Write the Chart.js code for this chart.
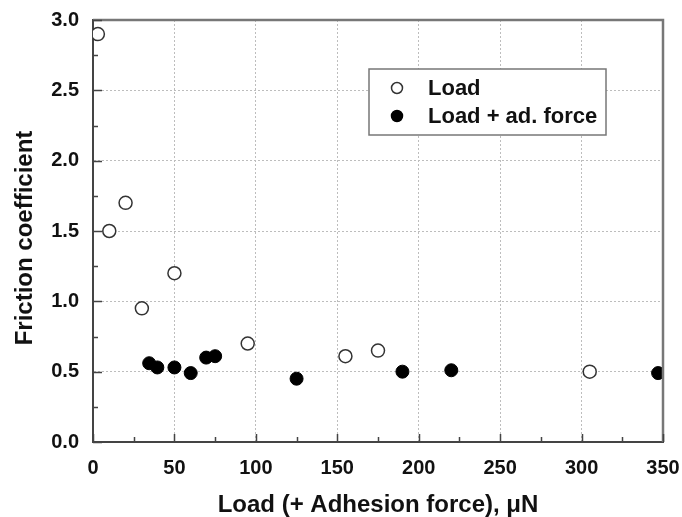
<!DOCTYPE html>
<html>
<head>
<meta charset="utf-8">
<script src="https://cdn.jsdelivr.net/npm/chart.js@4/dist/chart.umd.min.js"></script>
<style>
  html, body { margin: 0; padding: 0; background: #fff; }
  #wrap { width: 682px; height: 517px; }
</style>
</head>
<body>
<div id="wrap"><canvas id="c" width="682" height="517"></canvas></div>
<script>
// ---- data ----
const loadX = [3, 10, 20, 30, 50, 95, 155, 175, 305];
const loadY = [2.90, 1.50, 1.70, 0.95, 1.20, 0.70, 0.61, 0.65, 0.50];
const adhX = [34.5, 39.5, 50, 60, 69.5, 75, 125, 190, 220, 347];
const adhY = [0.56, 0.53, 0.53, 0.49, 0.60, 0.61, 0.45, 0.50, 0.51, 0.49];
const seriesNames = ["Load", "Load + ad. force"];
const xTitle = "Load (+ Adhesion force), \u03BCN";
const yTitle = "Friction coefficient";

const FONT = "'Liberation Sans', Arial, Helvetica, sans-serif";

function pts(xs, ys) { return xs.map((x, i) => ({ x: x, y: ys[i] })); }

// shift the y-axis title slightly downward (as in the reference)
const titleShiftPlugin = {
  id: 'titleShift',
  afterLayout(chart) {
    const s = chart.scales.y;
    if (s && !s._shifted) {
      const orig = s.drawTitle.bind(s);
      s.drawTitle = function () {
        this.ctx.save();
        this.ctx.translate(0, 7);
        orig();
        this.ctx.restore();
      };
      s._shifted = true;
    }
  }
};

// inward ticks, frame and legend box
const framePlugin = {
  id: 'frame',
  afterDraw(chart) {
    const ctx = chart.ctx;
    const a = chart.chartArea;
    const xs = chart.scales.x, ys = chart.scales.y;
    ctx.save();
    // top and right borders
    ctx.strokeStyle = '#777';
    ctx.lineWidth = 2.5;
    ctx.beginPath();
    ctx.moveTo(a.left, a.top);
    ctx.lineTo(a.right, a.top);
    ctx.lineTo(a.right, a.bottom);
    ctx.stroke();
    // inward tick marks
    ctx.strokeStyle = '#444';
    ctx.lineWidth = 1.5;
    ctx.beginPath();
    for (let v = xs.min; v <= xs.max + 1e-9; v += 25) {
      const px = Math.round(xs.getPixelForValue(v)) + 0.5;
      const len = (Math.round(v) % 50 === 0) ? 8 : 5;
      ctx.moveTo(px, a.bottom);
      ctx.lineTo(px, a.bottom - len);
    }
    for (let v = ys.min; v <= ys.max + 1e-9; v += 0.25) {
      const py = Math.round(ys.getPixelForValue(v)) + 0.5;
      const major = Math.abs(v * 2 - Math.round(v * 2)) < 1e-6;
      const len = major ? 9 : 5;
      ctx.moveTo(a.left, py);
      ctx.lineTo(a.left + len, py);
    }
    ctx.stroke();

    // legend box
    const bx = 369, by = 69, bw = 237, bh = 66;
    ctx.fillStyle = '#fff';
    ctx.fillRect(bx, by, bw, bh);
    ctx.strokeStyle = '#777';
    ctx.lineWidth = 1.5;
    ctx.strokeRect(bx, by, bw, bh);
    const rows = [88, 116];
    chart.data.datasets.forEach((ds, i) => {
      const cy = rows[i];
      ctx.beginPath();
      ctx.arc(397, cy, 5.5, 0, Math.PI * 2);
      ctx.fillStyle = ds.backgroundColor;
      ctx.fill();
      ctx.lineWidth = 1.5;
      ctx.strokeStyle = ds.borderColor;
      ctx.stroke();
      ctx.fillStyle = '#111';
      ctx.font = "bold 22px " + FONT;
      ctx.textAlign = 'left';
      ctx.textBaseline = 'middle';
      ctx.fillText(ds.label, 428, cy + 1);
    });
    ctx.restore();
  }
};

new Chart(document.getElementById('c'), {
  type: 'scatter',
  data: {
    datasets: [
      {
        label: seriesNames[0],
        data: pts(loadX, loadY),
        backgroundColor: '#ffffff',
        borderColor: '#333333',
        borderWidth: 1.5,
        pointRadius: 6.5,
        pointHoverRadius: 6.5
      },
      {
        label: seriesNames[1],
        data: pts(adhX, adhY),
        backgroundColor: '#000000',
        borderColor: '#000000',
        borderWidth: 1,
        pointRadius: 6.5,
        pointHoverRadius: 6.5
      }
    ]
  },
  options: {
    responsive: false,
    animation: false,
    devicePixelRatio: 1,
    layout: { padding: { top: 20, right: 19, left: 0, bottom: 0 } },
    plugins: {
      legend: { display: false },
      tooltip: { enabled: false }
    },
    scales: {
      x: {
        type: 'linear',
        min: 0, max: 350,
        afterFit(s) { s.height = 75; s.paddingLeft = 0; s.paddingRight = 0; },
        ticks: {
          stepSize: 50,
          padding: 14,
          color: '#111',
          font: { family: FONT, size: 20, weight: 'bold' }
        },
        grid: {
          color: '#bdbdbd',
          lineWidth: 1,
          drawTicks: false
        },
        border: { display: true, color: '#444', width: 2, dash: [2, 2] },
        title: {
          display: true,
          text: xTitle,
          color: '#111',
          padding: 0,
          font: { family: FONT, size: 24, weight: 'bold', lineHeight: 1.0 }
        }
      },
      y: {
        type: 'linear',
        min: 0, max: 3,
        afterFit(s) { s.width = 93; s.paddingTop = 0; s.paddingBottom = 0; },
        ticks: {
          stepSize: 0.5,
          padding: 14,
          color: '#111',
          font: { family: FONT, size: 20, weight: 'bold' },
          callback: (v) => Number(v).toFixed(1)
        },
        grid: {
          color: '#bdbdbd',
          lineWidth: 1,
          drawTicks: false
        },
        border: { display: true, color: '#444', width: 2, dash: [2, 2] },
        title: {
          display: true,
          text: yTitle,
          color: '#111',
          padding: { top: 11, bottom: 0 },
          font: { family: FONT, size: 24, weight: 'bold' }
        }
      }
    }
  },
  plugins: [titleShiftPlugin, framePlugin]
});
</script>
</body>
</html>
